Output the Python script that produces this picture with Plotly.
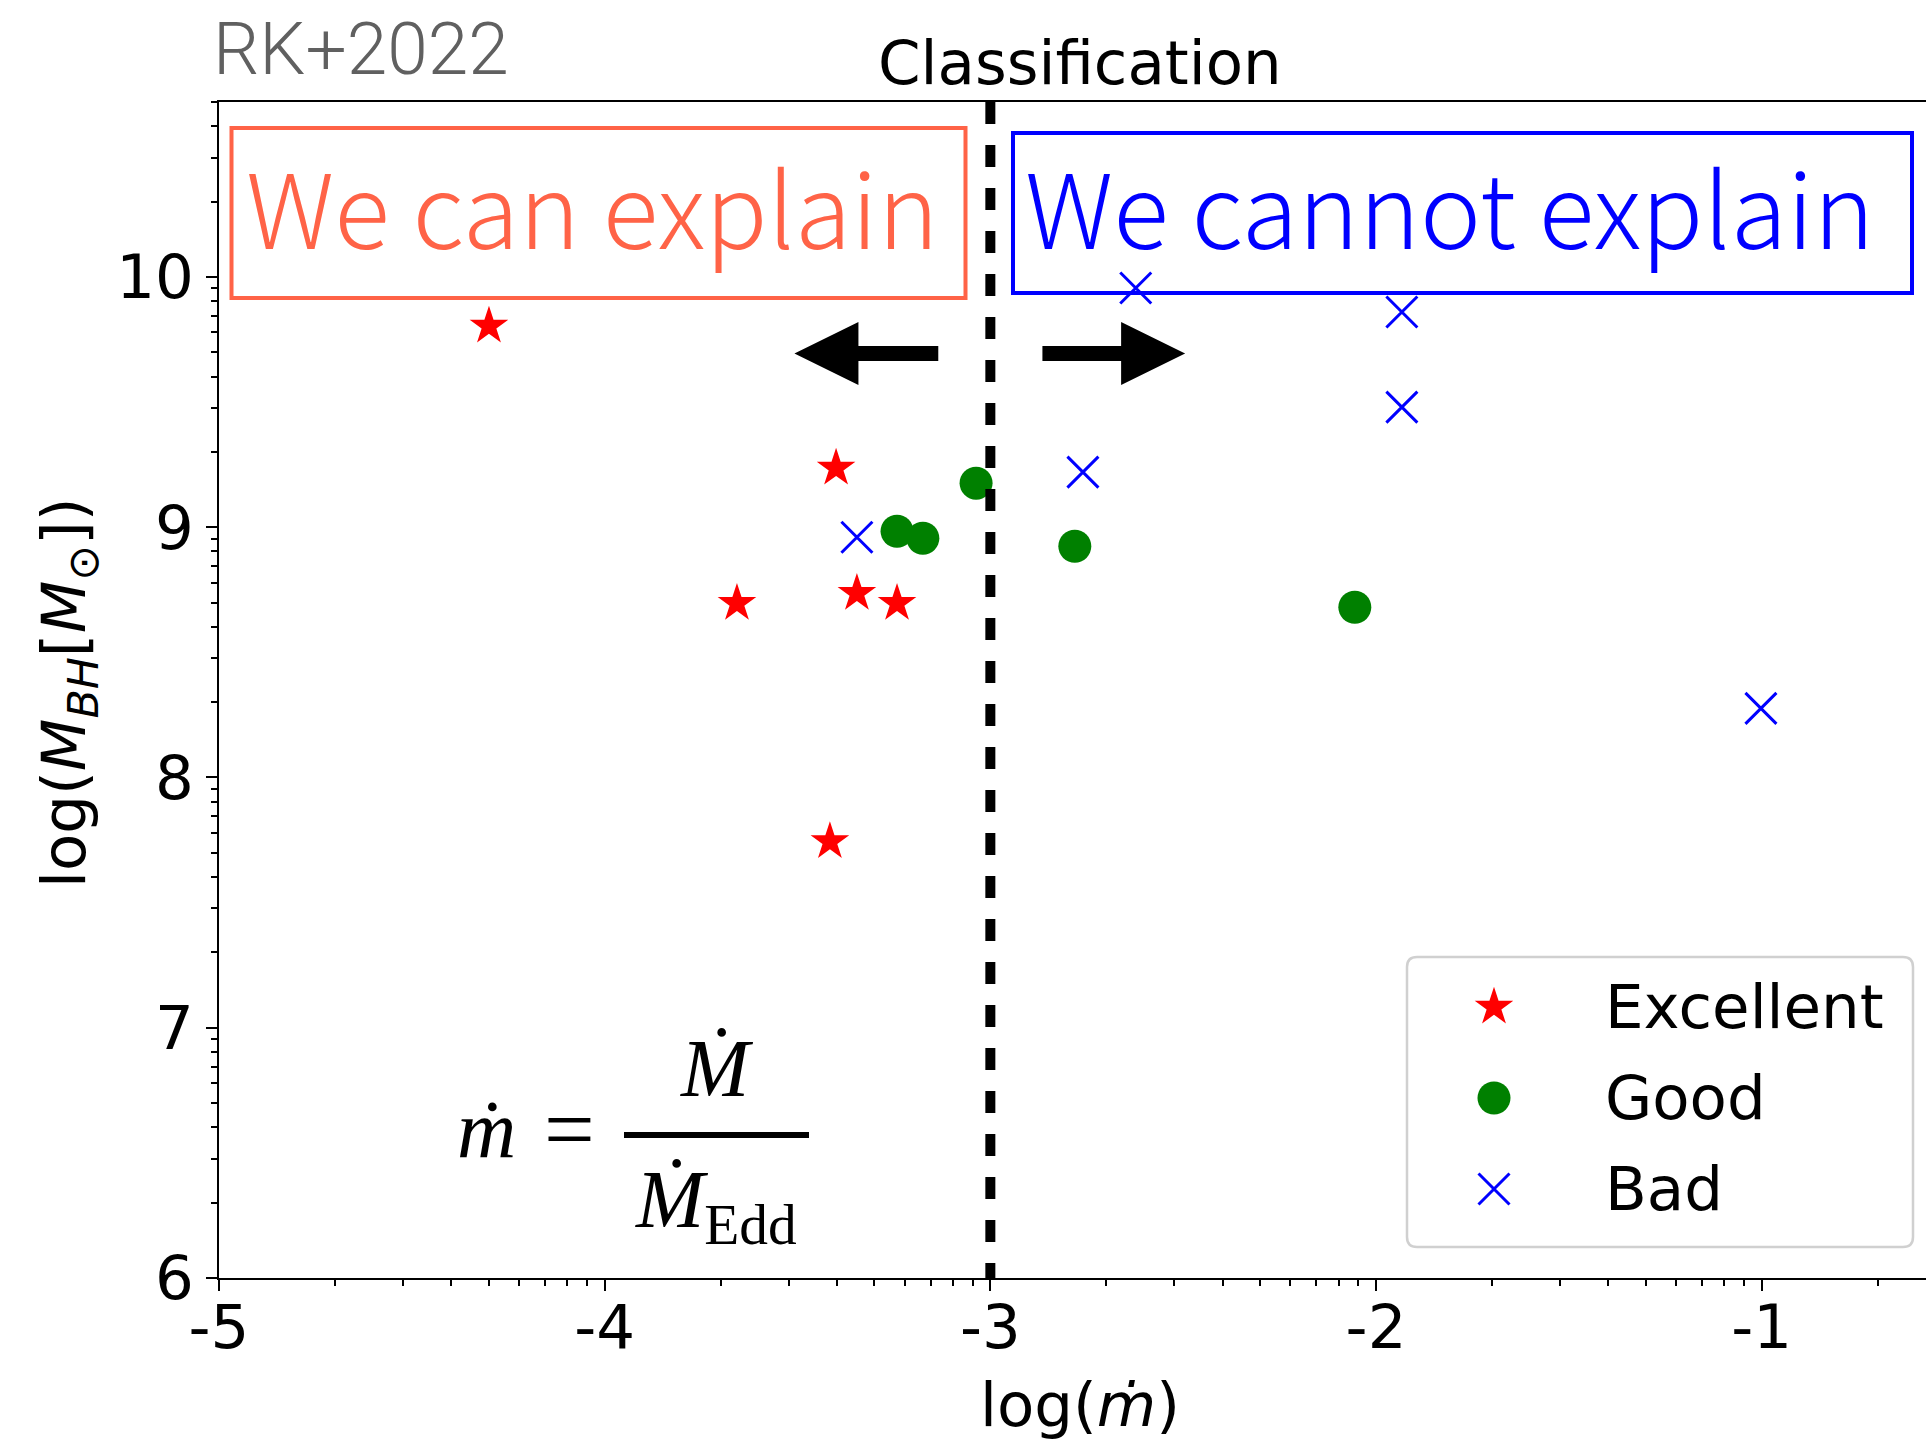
import math
import plotly.graph_objects as go

# ---------------- data (log values) ----------------
excellent_x = [-4.30, -3.40, -3.657, -3.346, -3.242, -3.416]
excellent_y = [9.804, 9.236, 8.696, 8.736, 8.696, 7.744]
good_x = [-3.037, -3.242, -3.175, -2.781, -2.055]
good_y = [9.176, 8.984, 8.956, 8.924, 8.680]
bad_x = [-3.346, -2.623, -1.933, -1.933, -2.760, -1.002]
bad_y = [8.960, 9.956, 9.860, 9.480, 9.220, 8.276]

series_names = ["Excellent", "Good", "Bad"]
x_ticks = [-5, -4, -3, -2, -1]
x_ticklabels = ["-5", "-4", "-3", "-2", "-1"]
y_ticks = [6, 7, 8, 9, 10]
y_ticklabels = ["6", "7", "8", "9", "10"]
threshold = -3
x_range = [-5, -0.574]
y_range = [6, 10.699]

# arrows (data units)
arrow_y = 9.694
left_arrow = (-3.135, -3.508)   # tail, tip
right_arrow = (-2.865, -2.495)

# ---------------- layout geometry ----------------
W, H = 1926, 1440
L, R, T, B = 219, 0, 102, 162
PW, PH = W - L - R, H - T - B


def px(x):
    return (x - L) / PW


def py(y):
    return (H - B - y) / PH


ux = PW / (x_range[1] - x_range[0])
uy = PH / (y_range[1] - y_range[0])

minor_x = [k + math.log10(m) for k in range(-5, 0) for m in range(2, 10)]
minor_y = [k + math.log10(m) for k in range(6, 11) for m in range(2, 10)]

TICKFONT = dict(family="DejaVu Sans", size=61, color="black")

STAR = dict(symbol="star", size=29, color="red", line=dict(width=0))
DOT = dict(symbol="circle", size=33, color="green", line=dict(width=0))
CROSS = dict(symbol="x-thin", size=31, color="blue", line=dict(width=3, color="blue"))

fig = go.Figure()

fig.add_trace(go.Scatter(x=excellent_x, y=excellent_y, mode="markers", name=series_names[0],
                         marker=STAR, showlegend=False))
fig.add_trace(go.Scatter(x=good_x, y=good_y, mode="markers", name=series_names[1],
                         marker=DOT, showlegend=False))
fig.add_trace(go.Scatter(x=bad_x, y=bad_y, mode="markers", name=series_names[2],
                         marker=CROSS, showlegend=False))

# legend symbols on an overlay axis in paper-like units
leg_sym_x = px(1494)
leg_rows = [1007, 1098, 1189]
for mk, row in zip((STAR, DOT, CROSS), leg_rows):
    fig.add_trace(go.Scatter(x=[leg_sym_x], y=[py(row)], mode="markers", xaxis="x2", yaxis="y2",
                             marker=mk, showlegend=False, hoverinfo="skip"))

shapes = []
# threshold dashed line (drawn from top so dash phase matches)
shapes.append(dict(type="line", xref="x", yref="paper", x0=threshold, x1=threshold, y0=1, y1=0,
                   line=dict(color="black", width=10, dash="22px,21px")))


def arrow_path(tail, tip, yc):
    d = 1 if tip > tail else -1
    hl = 64 / ux
    hw = 31.5 / uy
    sw = 7.5 / uy
    hb = tip - d * hl
    return (f"M{tail},{yc + sw} L{hb},{yc + sw} L{hb},{yc + hw} L{tip},{yc} "
            f"L{hb},{yc - hw} L{hb},{yc - sw} L{tail},{yc - sw} Z")


for tail, tip in (left_arrow, right_arrow):
    shapes.append(dict(type="path", xref="x", yref="y", path=arrow_path(tail, tip, arrow_y),
                       fillcolor="black", line=dict(width=0)))

# explanation boxes
shapes.append(dict(type="rect", xref="paper", yref="paper", x0=px(231.5), x1=px(965.5),
                   y0=py(298), y1=py(128), line=dict(color="#FF6347", width=4)))
shapes.append(dict(type="rect", xref="paper", yref="paper", x0=px(1013), x1=px(1912),
                   y0=py(293), y1=py(133), line=dict(color="#0000FF", width=4)))

# fraction bar
shapes.append(dict(type="line", xref="paper", yref="paper", x0=px(624), x1=px(809),
                   y0=py(1135), y1=py(1135), line=dict(color="black", width=6)))


# legend frame (rounded)
def rounded_rect(x0, y0, x1, y1, r):
    X0, X1 = px(x0), px(x1)
    Y0, Y1 = py(y0), py(y1)  # Y0 top, Y1 bottom
    rx, ry = r / PW, r / PH
    return (f"M{X0 + rx},{Y0} L{X1 - rx},{Y0} Q{X1},{Y0} {X1},{Y0 - ry} "
            f"L{X1},{Y1 + ry} Q{X1},{Y1} {X1 - rx},{Y1} L{X0 + rx},{Y1} "
            f"Q{X0},{Y1} {X0},{Y1 + ry} L{X0},{Y0 - ry} Q{X0},{Y0} {X0 + rx},{Y0} Z")


shapes.append(dict(type="path", xref="paper", yref="paper", layer="below",
                   path=rounded_rect(1407, 957, 1913, 1247, 10),
                   fillcolor="white", line=dict(color="#d0d0d0", width=2.5)))

annotations = []


def ann(text, x, y, size, family, color="black", xanchor="center", yanchor="middle", angle=0,
        weight="normal"):
    annotations.append(dict(text=text, x=px(x), y=py(y), xref="paper", yref="paper",
                            showarrow=False, xanchor=xanchor, yanchor=yanchor, textangle=angle,
                            font=dict(family=family, size=size, color=color, weight=weight)))


ann("RK+2022", 211, 49, 73, "Roboto", color="#606060", xanchor="left", weight=300)
ann("Classification", 1080, 63, 61, "DejaVu Sans")
ann("We can explain", 244, 205, 103, "Noto Sans CJK JP", color="#FF6347", xanchor="left", weight=300)
ann("We cannot explain", 1023, 205, 103, "Noto Sans CJK JP", color="#0000FF", xanchor="left", weight=300)

SERIF = "Liberation Serif, DejaVu Serif, serif"
ann("<i>\u1e41</i>", 486, 1129, 82, SERIF)
ann("=", 569, 1129, 90, SERIF)
ann("<i>\u1e40</i>", 717, 1068, 82, SERIF)
ann("<i>\u1e40</i><sub>Edd</sub>", 716, 1205, 82, SERIF)

ann("log(<i>\u1e41</i>)", 1080, 1404, 61, "DejaVu Sans")
ann("log(<i>M</i><sub><i>BH</i></sub>[<i>M</i><sub>\u2299</sub>])", 68, 693, 61, "DejaVu Sans", angle=-90)

for name, row in zip(series_names, leg_rows):
    ann(name, 1603, row - 1, 61, "DejaVu Sans", xanchor="left")

fig.update_layout(
    width=W, height=H,
    margin=dict(l=L, r=R, t=T, b=B, pad=0),
    paper_bgcolor="white", plot_bgcolor="white",
    showlegend=False,
    shapes=shapes, annotations=annotations,
    xaxis=dict(range=x_range, tickmode="array", tickvals=x_ticks, ticktext=x_ticklabels,
               ticks="outside", ticklen=11, tickwidth=2, tickcolor="black",
               showline=True, linewidth=2, linecolor="black", mirror=True,
               showgrid=False, zeroline=False, tickfont=TICKFONT, ticklabelstandoff=-16,
               minor=dict(tickmode="array", tickvals=minor_x, ticks="outside", ticklen=6,
                          tickwidth=1.5, tickcolor="black", showgrid=False)),
    yaxis=dict(range=y_range, tickmode="array", tickvals=y_ticks, ticktext=y_ticklabels,
               ticks="outside", ticklen=11, tickwidth=2, tickcolor="black",
               showline=True, linewidth=2, linecolor="black", mirror=False,
               showgrid=False, zeroline=False, tickfont=TICKFONT,
               minor=dict(tickmode="array", tickvals=minor_y, ticks="outside", ticklen=6,
                          tickwidth=1.5, tickcolor="black", showgrid=False)),
    xaxis2=dict(overlaying="x", range=[0, 1], visible=False),
    yaxis2=dict(overlaying="y", range=[0, 1], visible=False),
)

fig.write_html("out.html")
